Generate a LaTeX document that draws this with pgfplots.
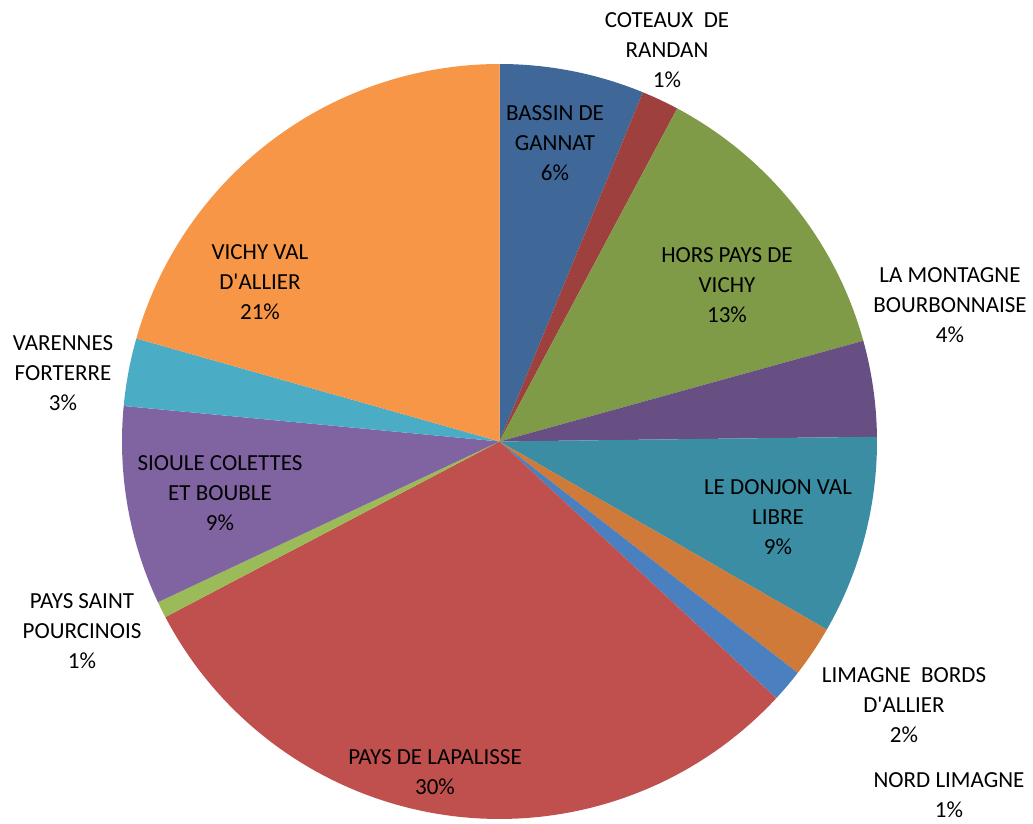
\documentclass[border=0pt]{standalone}
\usepackage{pgfplots}
\pgfplotsset{compat=1.18}
\usepackage{pgfplotstable}
\usepackage{fontspec}
\setmainfont{Carlito}

\definecolor{cA}{HTML}{3F6797}
\definecolor{cB}{HTML}{9E413E}
\definecolor{cC}{HTML}{7F9B48}
\definecolor{cD}{HTML}{674F84}
\definecolor{cE}{HTML}{3A8DA3}
\definecolor{cF}{HTML}{CF7A38}
\definecolor{cG}{HTML}{4A80C0}
\definecolor{cH}{HTML}{C0504D}
\definecolor{cI}{HTML}{9BBB59}
\definecolor{cJ}{HTML}{8064A2}
\definecolor{cK}{HTML}{4BACC6}
\definecolor{cL}{HTML}{F79646}

% share of each area, clockwise from 12 o'clock
\pgfplotstableread{
pct  col
6.2  cA
1.6  cB
12.9 cC
4.1  cD
8.5  cE
2.2  cF
1.4  cG
30.4 cH
0.7  cI
8.5  cJ
2.9  cK
20.6 cL
}\piedata

\def\cx{499.5}
\def\cy{382.5}
\def\rr{377.5}
\tikzset{lbl/.style={align=center, font=\fontsize{11.5}{15}\selectfont, inner sep=0pt}}
\newcommand\ap{\textquotesingle}

\begin{document}
\begin{tikzpicture}
\begin{axis}[
    scale only axis,
    width=516.5pt, height=412pt,
    xmin=0, xmax=1033, ymin=0, ymax=824,
    axis line style={draw=none},
    xtick=\empty, ytick=\empty,
    clip=false,
]
\gdef\cum{0}
\pgfplotsforeachungrouped \i in {0,...,11}{%
  \pgfplotstablegetelem{\i}{pct}\of\piedata \let\p\pgfplotsretval
  \pgfplotstablegetelem{\i}{col}\of\piedata \let\c\pgfplotsretval
  \pgfmathsetmacro\sa{90-3.6*\cum}%
  \pgfmathsetmacro\sb{90-3.6*(\cum+\p)}%
  \pgfmathsetmacro\nc{\cum+\p}%
  \xdef\cum{\nc}%
  \edef\doslice{\noexpand\addplot[fill=\c, draw=none, domain=\sb:\sa, samples=80]
     ({\cx+\rr*cos(x)},{\cy+\rr*sin(x)}) -- (axis cs:\cx,\cy) -- cycle;}%
  \doslice
}
\node[lbl] at (axis cs:667,774) {COTEAUX\ \ DE\\RANDAN\\1\%};
\node[lbl] at (axis cs:555,681) {BASSIN DE\\GANNAT\\6\%};
\node[lbl] at (axis cs:727,539) {HORS PAYS DE\\VICHY\\13\%};
\node[lbl] at (axis cs:950,519) {LA MONTAGNE\\BOURBONNAISE\\4\%};
\node[lbl] at (axis cs:778,307) {LE DONJON VAL\\LIBRE\\9\%};
\node[lbl] at (axis cs:904,119) {LIMAGNE\ \ BORDS\\D\ap ALLIER\\2\%};
\node[lbl] at (axis cs:949,29) {NORD LIMAGNE\\1\%};
\node[lbl] at (axis cs:435,52) {PAYS DE LAPALISSE\\30\%};
\node[lbl] at (axis cs:82,193) {PAYS SAINT\\POURCINOIS\\1\%};
\node[lbl] at (axis cs:220,331) {SIOULE COLETTES\\ET BOUBLE\\9\%};
\node[lbl] at (axis cs:63,451) {VARENNES\\FORTERRE\\3\%};
\node[lbl] at (axis cs:260,542) {VICHY VAL\\D\ap ALLIER\\21\%};
\end{axis}
\end{tikzpicture}
\end{document}
